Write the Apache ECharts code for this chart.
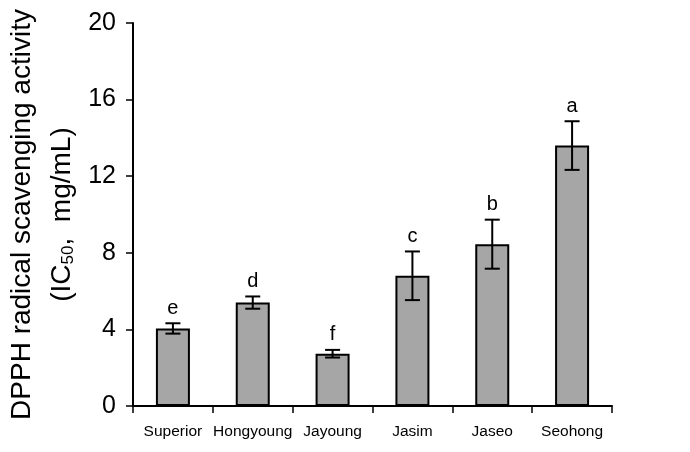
<!DOCTYPE html>
<html>
<head>
<meta charset="utf-8">
<script src="https://cdn.jsdelivr.net/npm/echarts@6/dist/echarts.min.js"></script>
<style>
    html, body { margin: 0; padding: 0; background: #fff; }
    #chart { width: 690px; height: 452px; }
</style>
</head>
<body>
<div id="chart"></div>
<script>
// data
const cultivars = ['Superior', 'Hongyoung', 'Jayoung', 'Jasim', 'Jaseo', 'Seohong']
const ic50 = [4.05, 5.4, 2.73, 6.8, 8.45, 13.6]
const sd = [0.27, 0.32, 0.2, 1.27, 1.28, 1.27]
const letters = ['e', 'd', 'f', 'c', 'b', 'a']
const yTicks = [0, 4, 8, 12, 16, 20]

const font = 'Liberation Sans, Arial, sans-serif'

const chart = echarts.init(document.getElementById('chart'), null, {renderer: 'canvas'})

//误差线 + 显著性字母
function renderErr(params, api) {
    const i = api.value(0)
    const hi = api.coord([i, api.value(1) + api.value(2)])
    const lo = api.coord([i, api.value(1) - api.value(2)])
    const w = 7.5
    const style = {stroke: '#000', lineWidth: 2}
    return {
        type: 'group',
        children: [
            {type: 'line', shape: {x1: hi[0], y1: hi[1], x2: lo[0], y2: lo[1]}, style},
            {type: 'line', shape: {x1: hi[0] - w, y1: hi[1], x2: hi[0] + w, y2: hi[1]}, style},
            {type: 'line', shape: {x1: lo[0] - w, y1: lo[1], x2: lo[0] + w, y2: lo[1]}, style},
            {
                type: 'text',
                style: {
                    text: letters[i], x: hi[0], y: hi[1] - 5,
                    align: 'center', verticalAlign: 'bottom',
                    fontFamily: font, fontSize: 20, fill: '#000'
                }
            }
        ]
    }
}

const option = {
    animation: false,
    backgroundColor: '#fff',
    grid: {
        left: 133,
        right: 78,
        top: 23,
        bottom: 46,
        containLabel: false,
        outerBoundsMode: 'none'
    },
    xAxis: {
        type: 'category',
        data: cultivars,
        boundaryGap: true,
        axisLine: {lineStyle: {color: '#000', width: 2}},
        axisTick: {show: true, length: 7, lineStyle: {color: '#000', width: 1.5}},
        axisLabel: {color: '#000', fontFamily: font, fontSize: 15.5, margin: 18, interval: 0}
    },
    yAxis: {
        type: 'value',
        min: 0,
        max: 20,
        interval: 4,
        splitLine: {show: false},
        axisLine: {show: true, lineStyle: {color: '#000', width: 2}},
        axisTick: {show: true, length: 7, lineStyle: {color: '#000', width: 1.5}},
        axisLabel: {
            color: '#000', fontFamily: font, fontSize: 25, margin: 17,
            formatter: v => yTicks.includes(v) ? String(v) : ''
        },
        name: '{t|DPPH radical scavenging activity}\n{t|(IC}{sub|50}{t|,  mg/mL)}',
        nameLocation: 'middle',
        nameRotate: 90,
        nameGap: 51,
        nameTextStyle: {
            rich: {
                t: {fontFamily: font, fontSize: 28, color: '#000', lineHeight: 40},
                sub: {fontFamily: font, fontSize: 17, color: '#000', lineHeight: 40, padding: [14, 0, 0, 0]}
            }
        }
    },
    series: [
        {
            type: 'bar',
            data: ic50,
            barWidth: 34,
            itemStyle: {color: '#a6a6a6', borderColor: '#000', borderWidth: 2}
        },
        {
            type: 'custom',
            renderItem: renderErr,
            data: ic50.map((v, i) => [i, v, sd[i]]),
            z: 5
        }
    ]
}

chart.setOption(option)
</script>
</body>
</html>
